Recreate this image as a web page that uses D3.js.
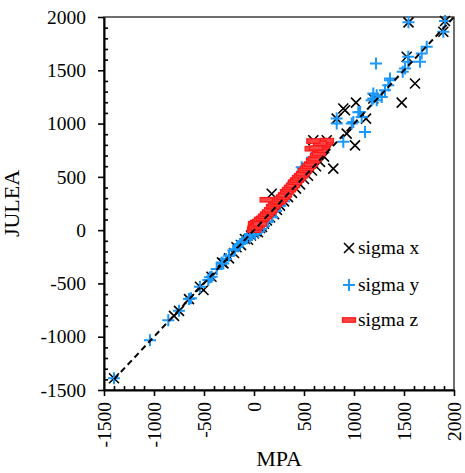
<!DOCTYPE html>
<html>
<head>
<meta charset="utf-8">
<script src="https://cdn.jsdelivr.net/npm/d3@7"></script>
<style>
  html, body { margin: 0; padding: 0; background: #fff; }
  svg { display: block; }
</style>
</head>
<body>
<svg id="chart" width="465" height="473"></svg>
<script>
// Stress comparison: MPA (x) against JULEA (y), pairs are [MPA, JULEA]
const sigmaX = [
  [-1400, -1390], [-800, -804], [-750, -757], [-650, -647], [-540, -531], [-505, -562],
  [-425, -437], [-320, -303], [-305, -312], [-250, -265], [-200, -215], [-175, -161],
  [-130, -140], [-90, -83], [-60, -90], [-30, -50], [0, -30], [20, -10], [40, -20],
  [60, 20], [80, 30], [100, 60], [130, 90], [160, 120], [177, 341], [200, 150],
  [230, 190], [260, 230], [300, 270], [340, 310], [380, 350], [420, 390], [460, 430],
  [500, 480], [540, 510], [580, 560], [620, 600], [660, 640], [700, 690], [593, 843],
  [727, 843], [793, 577], [827, 1047], [893, 1141], [910, 1125], [927, 906], [1010, 796],
  [1020, 1197], [1120, 1047], [1193, 1235], [1477, 1197], [1527, 1627], [1545, 1950],
  [1610, 1376], [1893, 1862], [1910, 1962]
];
const sigmaY = [
  [-1400, -1390], [-1040, -1033], [-857, -845], [-750, -757], [-650, -647], [-630, -640],
  [-540, -531], [-457, -468], [-440, -443], [-423, -437], [-373, -365], [-323, -303],
  [-307, -312], [-280, -270], [-250, -240], [-207, -192], [-190, -180], [-160, -150],
  [-140, -130], [-120, -110], [-90, -83], [-70, -75], [-40, -67], [-20, -45], [10, -35],
  [43, -20], [70, 10], [100, 40], [140, 80], [180, 120], [220, 180], [260, 230],
  [300, 270], [340, 340], [370, 400], [393, 450], [440, 510], [477, 591], [490, 578],
  [530, 620], [580, 680], [620, 720], [660, 760], [700, 800], [827, 1000], [827, 1047],
  [893, 830], [977, 1000], [993, 1015], [1043, 1106], [1060, 1109], [1077, 1062],
  [1110, 921], [1177, 1219], [1193, 1282], [1193, 1235], [1227, 1219], [1227, 1266],
  [1277, 1250], [1220, 1564], [1310, 1313], [1343, 1360], [1360, 1407], [1360, 1423],
  [1487, 1486], [1510, 1517], [1543, 1580], [1543, 1627], [1545, 1950], [1660, 1580],
  [1677, 1658], [1727, 1720], [1893, 1862], [1910, 1962]
];
const sigmaZ = [
  [0, 0], [5, 20], [10, 40], [10, 60], [20, 30], [30, 70], [40, 50], [50, 80], [60, 60],
  [70, 100], [90, 110], [110, 130], [130, 150], [150, 170], [170, 190], [190, 220],
  [210, 240], [230, 260], [127, 285], [250, 270], [270, 290], [290, 310], [310, 330],
  [330, 360], [350, 380], [370, 400], [390, 420], [410, 450], [430, 470], [450, 490],
  [470, 510], [490, 530], [510, 560], [530, 580], [550, 600], [570, 620], [590, 650],
  [610, 670], [630, 700], [650, 720], [670, 750], [690, 780], [700, 800], [720, 820],
  [730, 840], [660, 815], [593, 836], [577, 764], [620, 770]
];
const identityLine = [[-1400, -1400], [2000, 2000]];
const majorTicks = [-1500, -1000, -500, 0, 500, 1000, 1500, 2000];
const minorTicks = d3.range(-1500, 2001, 100).filter(v => v % 500 !== 0);
const seriesNames = ["sigma x", "sigma y", "sigma z"];
const xTitle = "MPA";
const yTitle = "JULEA";

const FONT = "Liberation Serif, Times New Roman, serif";
const svg = d3.select("#chart").attr("font-family", FONT);
const plotL = 104, plotR = 454, plotT = 17, plotB = 390;
const x = d3.scaleLinear().domain([-1500, 2000]).range([plotL, plotR]);
const y = d3.scaleLinear().domain([-1500, 2000]).range([plotB, plotT]);
const blue = "#1c98fa", red = "#ff1a1a";
const fmt = d => String(d);

// plot frame (top and right)
svg.append("rect")
  .attr("x", plotL).attr("y", plotT)
  .attr("width", plotR - plotL).attr("height", plotB - plotT)
  .attr("fill", "none").attr("stroke", "#222").attr("stroke-width", 1.3);

// markers
const xMark = (g, cx, cy) => {
  const s = 5;
  g.append("path")
    .attr("d", `M${cx - s},${cy - s}L${cx + s},${cy + s}M${cx - s},${cy + s}L${cx + s},${cy - s}`)
    .attr("stroke", "#000").attr("stroke-width", 1.6).attr("fill", "none");
};
const plusMark = (g, cx, cy) => {
  const s = 6;
  g.append("path")
    .attr("d", `M${cx - s},${cy}L${cx + s},${cy}M${cx},${cy - s}L${cx},${cy + s}`)
    .attr("stroke", blue).attr("stroke-width", 2).attr("fill", "none");
};
const dashMark = (g, cx, cy) => {
  g.append("rect")
    .attr("x", cx - 6.5).attr("y", cy - 2.2)
    .attr("width", 13).attr("height", 4.4)
    .attr("fill", "#ff4545").attr("stroke", red).attr("stroke-width", 1.3);
};

const gx = svg.append("g");
sigmaX.forEach(d => xMark(gx, x(d[0]), y(d[1])));
const gy = svg.append("g");
sigmaY.forEach(d => plusMark(gy, x(d[0]), y(d[1])));
const gz = svg.append("g");
sigmaZ.forEach(d => dashMark(gz, x(d[0]), y(d[1])));

// y = x reference line
svg.append("path")
  .attr("d", d3.line().x(d => x(d[0])).y(d => y(d[1]))(identityLine))
  .attr("stroke", "#000").attr("stroke-width", 2).attr("stroke-dasharray", "6,4")
  .attr("fill", "none");

// axes
const styleAxis = g => {
  g.attr("font-family", FONT).attr("font-size", 19.5);
  g.select(".domain").attr("stroke", "#000").attr("stroke-width", 2);
  g.selectAll(".tick line").attr("stroke", "#000").attr("stroke-width", 1.6);
  g.selectAll("text").attr("fill", "#000");
};
const styleMinor = g => {
  g.select(".domain").remove();
  g.selectAll(".tick line").attr("stroke", "#000").attr("stroke-width", 1.6);
};

svg.append("g").attr("transform", `translate(${plotL},0)`)
  .call(d3.axisLeft(y).tickValues(majorTicks).tickSize(6).tickPadding(12).tickSizeOuter(0).tickFormat(fmt))
  .call(styleAxis);
svg.append("g").attr("transform", `translate(${plotL},0)`)
  .call(d3.axisLeft(y).tickValues(minorTicks).tickSize(-4).tickSizeOuter(0).tickFormat(""))
  .call(styleMinor);

const xAxis = svg.append("g").attr("transform", `translate(0,${plotB})`)
  .call(d3.axisBottom(x).tickValues(majorTicks).tickSize(6).tickSizeOuter(0).tickFormat(fmt))
  .call(styleAxis);
xAxis.selectAll("text")
  .attr("transform", "rotate(-90)")
  .attr("text-anchor", "end")
  .attr("x", -12).attr("y", 0).attr("dy", "0.35em");
svg.append("g").attr("transform", `translate(0,${plotB})`)
  .call(d3.axisBottom(x).tickValues(minorTicks).tickSize(-4).tickSizeOuter(0).tickFormat(""))
  .call(styleMinor);

// axis titles
svg.append("text").attr("x", (plotL + plotR) / 2).attr("y", 466)
  .attr("text-anchor", "middle").attr("font-size", 22).text(xTitle);
svg.append("text").attr("transform", `translate(19,${(plotT + plotB) / 2}) rotate(-90)`)
  .attr("text-anchor", "middle").attr("font-size", 22).text(yTitle);

// legend
const legend = svg.append("g");
const markers = [xMark, plusMark, dashMark];
const legendY = [248, 285, 320];
seriesNames.forEach((name, i) => {
  markers[i](legend, 349, legendY[i]);
  legend.append("text").attr("x", 358).attr("y", legendY[i]).attr("dy", "0.33em")
    .attr("font-size", 19.5).text(name);
});
</script>
</body>
</html>
